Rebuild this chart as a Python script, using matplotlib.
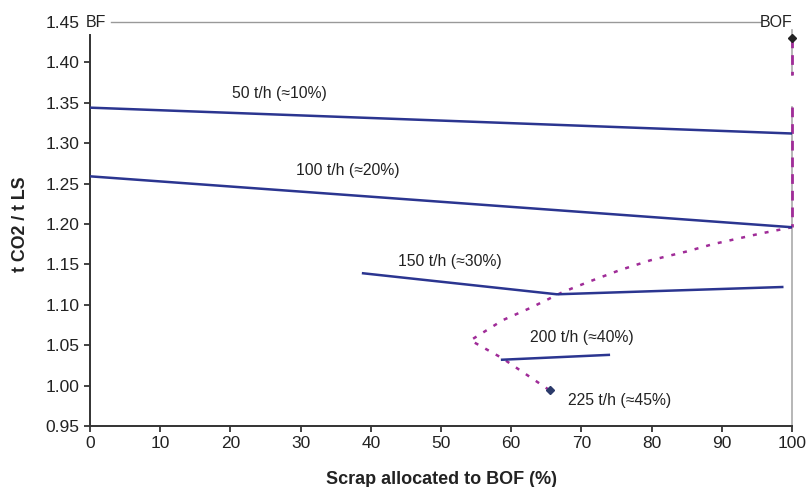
import numpy as np
import matplotlib.pyplot as plt

plt.rcParams['font.family'] = ['Liberation Sans', 'DejaVu Sans']

# solid lines for each scrap rate (x = % scrap to BOF, y = t CO2 / t LS)
x_50 = [0, 100]
y_50 = [1.344, 1.312]
x_100 = [0, 100]
y_100 = [1.259, 1.196]
x_150 = [38.9, 66.5, 98.6]
y_150 = [1.139, 1.113, 1.122]
x_200 = [58.7, 73.9]
y_200 = [1.032, 1.038]
x_225 = [65.5]
y_225 = [0.994]

# dotted optimum path
x_opt = [100, 95.4, 88.7, 85.0, 79.8, 75.5, 71.2, 67.4, 62.7, 58.8, 54.2, 58.7, 65.5]
y_opt = [1.196, 1.188, 1.175, 1.166, 1.155, 1.143, 1.129, 1.116, 1.096, 1.081, 1.056, 1.034, 0.994]

# dashed vertical at 100 % BOF (gap where the trace is hidden)
x_bof = [100, 100, np.nan, 100, 100]
y_bof = [1.430, 1.385, np.nan, 1.345, 1.196]

labels = ['50 t/h (\u224810%)', '100 t/h (\u224820%)', '150 t/h (\u224830%)',
          '200 t/h (\u224840%)', '225 t/h (\u224845%)']
label_x = [20.2, 29.3, 43.9, 62.7, 68.1]
label_y = [1.362, 1.266, 1.153, 1.060, 0.981]

blue = '#2b3590'
magenta = '#a02c98'

fig = plt.figure(figsize=(8.07, 4.87), dpi=100)
ax = fig.add_axes([0.1115, 0.1253, 0.87, 0.8295])

# gray frame pieces
ax.plot([3.0, 95.6], [1.45, 1.45], color='#999999', lw=1, clip_on=False, zorder=1)
ax.plot([100, 100], [1.44, 1.385], color='#aaaaaa', lw=1.2, clip_on=False, zorder=1)
ax.plot([100, 100], [1.345, 0.95], color='#aaaaaa', lw=1.2, clip_on=False, zorder=1)

ax.plot(x_opt, y_opt, color=magenta, lw=1.8, ls=(0, (1.6, 3.2)), zorder=2)
ax.plot(x_bof, y_bof, color=magenta, lw=2.0, ls=(0, (3.5, 2.5)), clip_on=False, zorder=2)

for xs, ys in [(x_50, y_50), (x_100, y_100), (x_150, y_150), (x_200, y_200)]:
    ax.plot(xs, ys, color=blue, lw=1.8, zorder=3)

ax.plot(x_225, y_225, marker='D', ms=4, color='#2b3a6a', ls='none', zorder=4)
ax.plot([100], [1.43], marker='D', ms=4, color='#222222', ls='none', clip_on=False, zorder=4)

for t, lx, ly in zip(labels, label_x, label_y):
    ax.text(lx, ly, t, fontsize=11.3, color='#222222', ha='left', va='center')

ax.text(0.9, 1.45, 'BF', fontsize=11.5, color='#222222', ha='center', va='center')
ax.text(100, 1.45, 'BOF', fontsize=11.5, color='#222222', ha='right', va='center')

ax.set_xlim(0, 100)
ax.set_ylim(0.95, 1.45)
ax.set_xticks(np.arange(0, 101, 10))
ax.set_yticks(np.arange(0.95, 1.451, 0.05))
ax.set_yticklabels(['%.2f' % v for v in np.arange(0.95, 1.451, 0.05)])
ax.tick_params(labelsize=12.5, colors='#222222', length=4, width=1.2)
ax.yaxis.get_major_ticks()[-1].tick1line.set_visible(False)

ax.spines['top'].set_visible(False)
ax.spines['right'].set_visible(False)
for s in ['left', 'bottom']:
    ax.spines[s].set_linewidth(1.4)
    ax.spines[s].set_color('#333333')
ax.spines['left'].set_bounds(0.95, 1.434)

ax.set_xlabel('Scrap allocated to BOF (%)', fontsize=13, fontweight='bold', color='#222222', labelpad=14)
ax.set_ylabel('t CO2 / t LS', fontsize=12.8, fontweight='bold', color='#222222', labelpad=12)

fig.savefig('out.png', dpi=100)
